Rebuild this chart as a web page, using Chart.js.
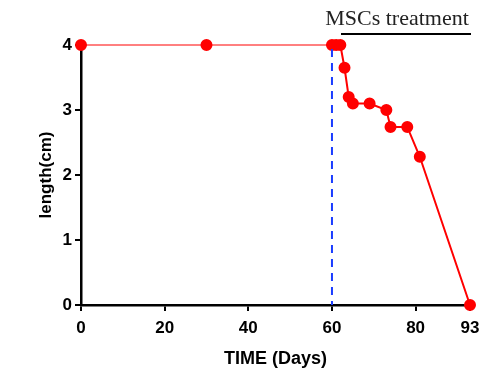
<!DOCTYPE html>
<html>
<head>
<meta charset="utf-8">
<script src="https://cdn.jsdelivr.net/npm/chart.js@4"></script>
<style>
  html, body { margin: 0; padding: 0; background: #fff; }
  #wrap { width: 488px; height: 381px; }
</style>
</head>
<body>
<div id="wrap"><canvas id="chart" width="488" height="381"></canvas></div>
<script>
// values
const days = [0, 30, 60, 61, 62, 63, 64, 65, 69, 73, 74, 78, 81, 93];
const lengths = [4, 4, 4, 4, 4, 3.65, 3.2, 3.1, 3.1, 3.0, 2.74, 2.74, 2.28, 0];
const xTicks = [0, 20, 40, 60, 80, 93];
const yTicks = [0, 1, 2, 3, 4];
const treatmentStart = 60;
const treatmentLabel = "MSCs treatment";

const boldFont = "'Liberation Sans', Arial, sans-serif";

// dashed blue line at day 60 plus the treatment bar and label
const annotations = {
    id: 'annotations',
    afterDatasetsDraw(chart) {
        const ctx = chart.ctx;
        const x = chart.scales.x.getPixelForValue(treatmentStart);
        const area = chart.chartArea;
        ctx.save();
        ctx.strokeStyle = '#1a3cff';
        ctx.lineWidth = 2;
        ctx.setLineDash([8, 6]);
        ctx.beginPath();
        ctx.moveTo(x, area.top + 4);
        ctx.lineTo(x, area.bottom);
        ctx.stroke();
        ctx.setLineDash([]);

        ctx.strokeStyle = '#000';
        ctx.lineWidth = 2;
        ctx.beginPath();
        ctx.moveTo(341, 34);
        ctx.lineTo(471, 34);
        ctx.stroke();

        ctx.fillStyle = '#222';
        ctx.font = "22px 'Liberation Serif', 'Times New Roman', serif";
        ctx.textAlign = 'center';
        ctx.textBaseline = 'alphabetic';
        ctx.fillText(treatmentLabel, 397, 25);
        ctx.restore();
    }
};

new Chart(document.getElementById('chart'), {
    type: 'line',
    data: {
        datasets: [{
            data: days.map((d, i) => ({ x: d, y: lengths[i] })),
            borderColor: '#ff0000',
            backgroundColor: '#ff0000',
            pointBackgroundColor: '#ff0000',
            pointBorderColor: '#ff0000',
            pointRadius: 5,
            borderWidth: 2,
            tension: 0,
            clip: false,
            segment: {
                borderWidth: c => c.p0.parsed.x < treatmentStart ? 1 : 2
            }
        }]
    },
    options: {
        responsive: false,
        animation: false,
        events: [],
        layout: { padding: { left: 0, right: 18, top: 45, bottom: 0 } },
        plugins: { legend: { display: false }, tooltip: { enabled: false } },
        scales: {
            x: {
                type: 'linear',
                min: 0,
                max: 93,
                afterBuildTicks: s => { s.ticks = xTicks.map(v => ({ value: v })); },
                afterFit: s => { s.height = 76; },
                border: { color: '#000', width: 2.5 },
                grid: { drawOnChartArea: false, color: '#000', lineWidth: 2, tickLength: 6 },
                ticks: { color: '#000', font: { family: boldFont, size: 17, weight: 'bold' }, padding: 7, maxRotation: 0 },
                title: { display: true, text: 'TIME (Days)', color: '#000', font: { family: boldFont, size: 18, weight: 'bold' }, padding: { top: 4, bottom: 11 } }
            },
            y: {
                min: 0,
                max: 4,
                afterBuildTicks: s => { s.ticks = yTicks.map(v => ({ value: v })); },
                afterFit: s => { s.width = 81; },
                border: { color: '#000', width: 2.5 },
                grid: { drawOnChartArea: false, color: '#000', lineWidth: 2, tickLength: 6 },
                ticks: { color: '#000', font: { family: boldFont, size: 17, weight: 'bold' }, padding: 3 },
                title: { display: true, text: 'length(cm)', color: '#000', font: { family: boldFont, size: 17, weight: 'bold' }, padding: { top: 36, bottom: 4 } }
            }
        }
    },
    plugins: [annotations]
});
</script>
</body>
</html>
